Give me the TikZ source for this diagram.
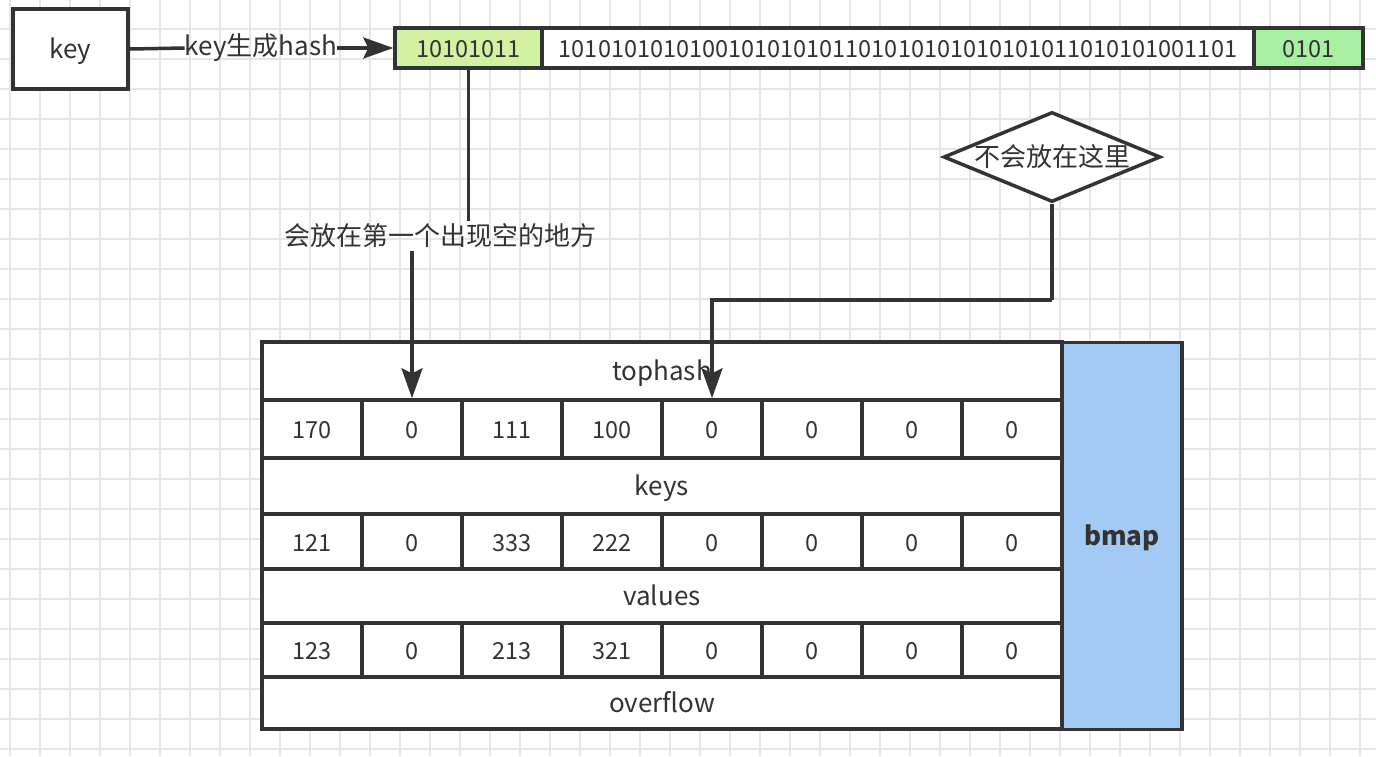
\documentclass[tikz,border=0pt]{standalone}
\usepackage{fontspec}
\setmainfont{Noto Sans CJK SC}
\usetikzlibrary{shapes.geometric,arrows.meta,calc}
\definecolor{ln}{HTML}{333333}
\definecolor{gridc}{HTML}{E6E6E6}
\definecolor{greenA}{HTML}{D3F1A2}
\definecolor{greenB}{HTML}{A8F0A2}
\definecolor{blueB}{HTML}{A3C9F5}
\begin{document}
\begin{tikzpicture}[x=1pt,y=-1pt,
  txt/.style={text=ln, font=\fontsize{26}{30}\selectfont},
  num/.style={font=\fontsize{23.5}{28}\selectfont},
  box/.style={txt, draw=ln, line width=3.5pt, inner sep=0pt, fill=white, text height=19pt, text depth=0pt},
  conn/.style={draw=ln, line width=3.5pt},
  tip/.style={-{Stealth[length=30pt,width=21pt,inset=5pt]}},
  lbl/.style={txt, inner sep=0pt}]
\useasboundingbox (0,0) rectangle (1376,756);
\fill[white] (0,0) rectangle (1376,756);
% grid
\foreach \gx in {10,40,...,1370} \draw[gridc, line width=1.2pt] (\gx,0) -- (\gx,756);
\foreach \gy in {29,59,...,749} \draw[gridc, line width=1.2pt] (0,\gy) -- (1376,\gy);
% key and hash
\node[box, minimum width=115, minimum height=80] (key) at (70.5,49) {key};
\node[box, num, fill=greenA, minimum width=147, minimum height=40] (h1) at (468.5,48) {10101011};
\node[box, num, minimum width=712, minimum height=40] (h2) at (898,48) {1010101010100101010101101010101010101011010101001101};
\node[box, num, fill=greenB, minimum width=109, minimum height=40] (h3) at (1308.5,48) {0101};
\node[lbl] (klbl) at (261,48) {key生成hash};
\draw[conn] (key.east) -- (klbl.west);
\draw[conn, tip] (klbl.east) -- (h1.west);
% diamond
\node[draw=ln, line width=3.5pt, fill=white, diamond, minimum width=217, minimum height=90, inner sep=0pt,
  label={[lbl]center:不会放在这里}] (dia) at (1052,157) {};
% table
\node[box, minimum width=800, minimum height=58] (rtop) at (662,371) {tophash};
\node[box, minimum width=800, minimum height=56] (rkeys) at (662,486) {keys};
\node[box, minimum width=800, minimum height=54] (rvals) at (662,596) {values};
\node[box, minimum width=800, minimum height=52] (rover) at (662,703) {overflow};
\foreach \r/\yy/\hh/\vals in {1/429/58/{170,0,111,100,0,0,0,0},2/541.5/55/{121,0,333,222,0,0,0,0},3/650/54/{123,0,213,321,0,0,0,0}}{
  \foreach \v [count=\c] in \vals {
    \node[box, num, minimum width=100, minimum height=\hh] (r\r c\c) at (212+100*\c,\yy) {\v};
  }
}
\node[box, fill=blueB, minimum width=120, minimum height=387, font=\fontsize{26}{30}\selectfont\bfseries] (bmap) at (1122,536) {bmap};
% connectors
\node[lbl, inner ysep=3pt] (plbl) at (440,236) {会放在第一个出现空的地方};
\draw[conn] (h1.south) -- (h1.south |- plbl.north);
\draw[conn, tip] (plbl.south -| r1c2.north) -- (r1c2.north);
\coordinate (bend) at (1052,300);
\draw[conn] (dia.south) -- (bend);
\draw[conn, tip] (bend) -| (r1c5.north);
\end{tikzpicture}
\end{document}
